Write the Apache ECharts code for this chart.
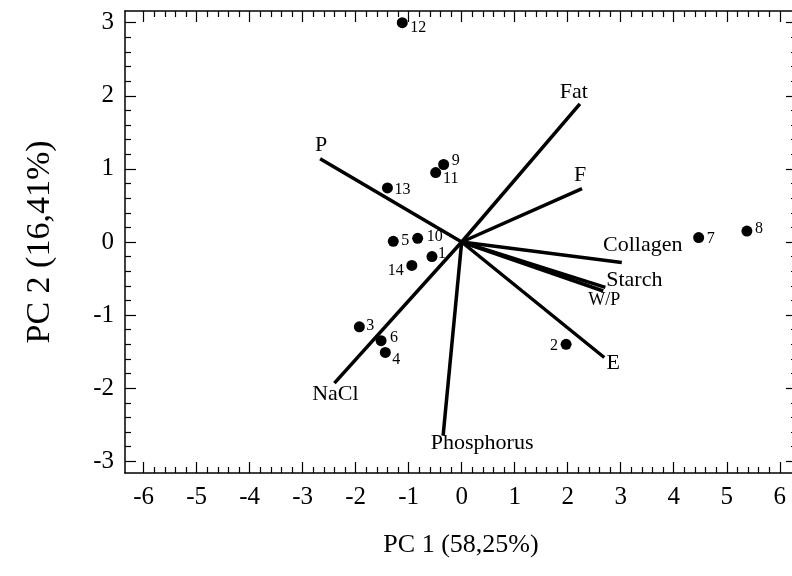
<!DOCTYPE html>
<html>
<head>
<meta charset="utf-8">
<title>PCA biplot</title>
<script src="https://cdn.jsdelivr.net/npm/echarts@6/dist/echarts.min.js"></script>
<style>
  html, body { margin: 0; padding: 0; background: #ffffff; }
  #chart { width: 792px; height: 576px; }
</style>
</head>
<body>
<div id="chart"></div>
<script>
// samples (scores)
const sampleIds = ['1', '2', '3', '4', '5', '6', '7', '8', '9', '10', '11', '12', '13', '14'];
const samplePc1 = [-0.56, 1.97, -1.93, -1.44, -1.29, -1.52, 4.47, 5.38, -0.34, -0.83, -0.49, -1.12, -1.40, -0.94];
const samplePc2 = [-0.20, -1.40, -1.16, -1.51, 0.01, -1.35, 0.06, 0.15, 1.06, 0.05, 0.95, 3.00, 0.74, -0.32];

// variables (loadings)
const variableNames = ['Fat', 'F', 'P', 'Collagen', 'Starch', 'W/P', 'E', 'NaCl', 'Phosphorus'];
const variablePc1 = [2.23, 2.27, -2.67, 3.02, 2.71, 2.67, 2.69, -2.40, -0.35];
const variablePc2 = [1.89, 0.73, 1.14, -0.28, -0.62, -0.67, -1.58, -1.93, -2.65];

// axis ticks
const xTickValues = [-6, -5, -4, -3, -2, -1, 0, 1, 2, 3, 4, 5, 6];
const yTickValues = [-3, -2, -1, 0, 1, 2, 3];

const serif = 'Liberation Serif';

// label placement, px from the mark
const sampleLabelOffset = {
  '1': [10, -3], '2': [-12, 1], '3': [11, -1], '4': [11, 7], '5': [12, 0],
  '6': [13, -3], '7': [12, 1], '8': [12, -2], '9': [12, -4], '10': [17, -2],
  '11': [15, 6], '12': [16, 5], '13': [15, 2], '14': [-16, 5]
};
const variableLabelOffset = {
  'Fat': [-6, -12], 'F': [-2, -13], 'P': [1, -13], 'Collagen': [21, -17],
  'Starch': [29, -7], 'W/P': [1, 9], 'E': [9, 6], 'NaCl': [1, 11], 'Phosphorus': [39, 8]
};

function minorValues(ticks) {
  const out = [];
  for (let i = 1; i < ticks.length; i++) {
    const step = (ticks[i] - ticks[i - 1]) / 5;
    for (let k = 1; k < 5; k++) {
      out.push(+(ticks[i - 1] + k * step).toFixed(4));
    }
  }
  return out;
}

const xMinor = minorValues(xTickValues);
const yMinor = minorValues(yTickValues);

// the frame runs a little past the right edge of the picture
const X_MIN = -6.35, X_MAX = 6.325;
const Y_MIN = -3.16, Y_MAX = 3.16;

function tickAxis(kind, position, values, len, withLine, withLabel) {
  const axis = {
    type: 'value',
    position: position,
    min: kind === 'x' ? X_MIN : Y_MIN,
    max: kind === 'x' ? X_MAX : Y_MAX,
    splitLine: { show: false },
    axisLine: { show: withLine, onZero: false, lineStyle: { color: '#000', width: 1.5 } },
    axisTick: {
      show: true,
      inside: true,
      length: len,
      customValues: values,
      lineStyle: { color: '#000', width: 1.2 }
    },
    axisLabel: { show: false }
  };
  if (withLabel) {
    axis.axisLabel = {
      show: true,
      customValues: values,
      color: '#000',
      fontFamily: serif,
      fontSize: 25,
      margin: kind === 'x' ? 12 : 11
    };
  }
  return axis;
}

const xAxes = [
  Object.assign(tickAxis('x', 'bottom', xTickValues, 11, true, true), {
    name: 'PC 1 (58,25%)',
    nameLocation: 'middle',
    nameGap: 59,
    nameTextStyle: { color: '#000', fontFamily: serif, fontSize: 26 }
  }),
  tickAxis('x', 'bottom', xMinor, 6, false, false),
  tickAxis('x', 'top', xTickValues, 11, true, false),
  tickAxis('x', 'top', xMinor, 6, false, false)
];

const yAxes = [
  Object.assign(tickAxis('y', 'left', yTickValues, 11, true, true), {
    name: 'PC 2 (16,41%)',
    nameLocation: 'middle',
    nameGap: 68,
    nameTextStyle: { color: '#000', fontFamily: serif, fontSize: 34 }
  }),
  tickAxis('y', 'left', yMinor, 6, false, false),
  tickAxis('y', 'right', yTickValues, 11, true, false),
  tickAxis('y', 'right', yMinor, 6, false, false)
];

const vectorSeries = variableNames.map((name, i) => ({
  type: 'line',
  name: name,
  xAxisIndex: 0,
  yAxisIndex: 0,
  silent: true,
  symbol: 'none',
  animation: false,
  lineStyle: { color: '#000', width: 3.5, opacity: 1 },
  data: [[0, 0], [variablePc1[i], variablePc2[i]]],
  z: 2
}));

const chart = echarts.init(document.getElementById('chart'), null, { renderer: 'canvas' });

chart.setOption({
  backgroundColor: '#ffffff',
  animation: false,
  grid: {
    left: 125,
    top: 11,
    width: 672,
    height: 462,
    containLabel: false,
    outerBoundsMode: 'none'
  },
  xAxis: xAxes,
  yAxis: yAxes,
  series: vectorSeries.concat([
    {
      type: 'scatter',
      name: 'variables',
      xAxisIndex: 0,
      yAxisIndex: 0,
      symbolSize: 0,
      silent: true,
      z: 3,
      itemStyle: { opacity: 1 },
      data: variableNames.map((name, i) => ({
        name: name,
        value: [variablePc1[i], variablePc2[i]],
        label: {
          offset: variableLabelOffset[name],
          fontSize: name === 'W/P' ? 18 : 22
        }
      })),
      label: {
        show: true,
        position: 'inside',
        formatter: '{b}',
        color: '#000',
        fontFamily: serif,
        fontSize: 22
      }
    },
    {
      type: 'scatter',
      name: 'samples',
      xAxisIndex: 0,
      yAxisIndex: 0,
      symbol: 'circle',
      symbolSize: 11,
      itemStyle: { color: '#000', opacity: 1 },
      silent: true,
      z: 4,
      data: sampleIds.map((id, i) => ({
        name: id,
        value: [samplePc1[i], samplePc2[i]],
        label: { offset: sampleLabelOffset[id] }
      })),
      label: {
        show: true,
        position: 'inside',
        formatter: '{b}',
        color: '#000',
        fontFamily: serif,
        fontSize: 16
      }
    }
  ])
});
</script>
</body>
</html>
